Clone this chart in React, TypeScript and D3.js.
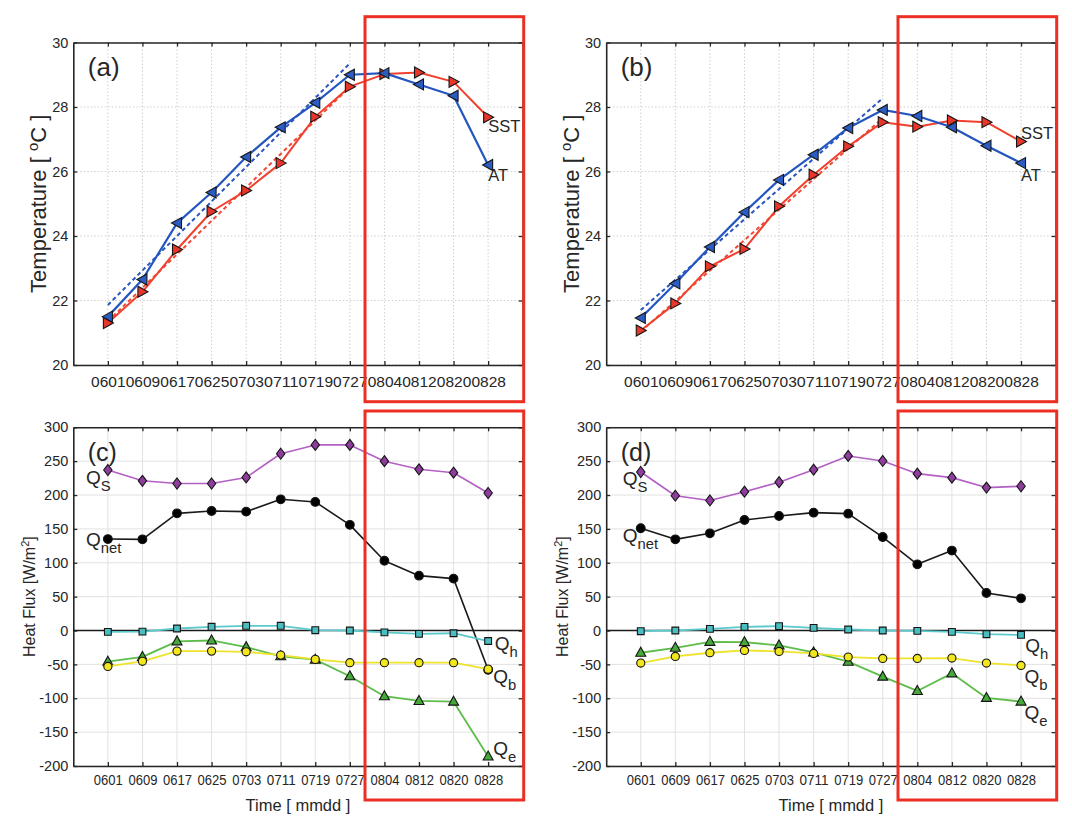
import React, { useEffect, useRef } from 'react';
import * as d3 from 'd3';

// ---- data ----
const dates = ['0601', '0609', '0617', '0625', '0703', '0711', '0719', '0727', '0804', '0812', '0820', '0828'];

const tempTicks = [20, 22, 24, 26, 28, 30];
const fluxTicks = [-200, -150, -100, -50, 0, 50, 100, 150, 200, 250, 300];

// (a)
const atA = [21.5, 22.65, 24.4, 25.35, 26.45, 27.37, 28.13, 29.0, 29.05, 28.7, 28.35, 26.2];
const sstA = [21.3, 22.27, 23.58, 24.76, 25.41, 26.26, 27.7, 28.63, 29.02, 29.07, 28.78, 27.68];
// (b)
const atB = [21.46, 22.53, 23.66, 24.74, 25.74, 26.52, 27.35, 27.91, 27.72, 27.37, 26.8, 26.26];
const sstB = [21.07, 21.91, 23.06, 23.6, 24.92, 25.9, 26.78, 27.53, 27.39, 27.58, 27.53, 26.93];

// (c)
const qsC = [237, 221, 217, 217, 226, 261, 274, 274, 250, 238, 233, 203];
const qnetC = [135, 134.6, 173, 176.5, 175.5, 193.7, 189.8, 156, 103, 81, 76.6, -58];
const qhC = [-2, -1.7, 3, 5.5, 7, 7, 0.5, 0, -2.8, -5, -4, -15.5];
const qbC = [-53, -45.5, -30.4, -30.4, -31.4, -36.3, -42.6, -47.5, -47.5, -47.5, -47.5, -57];
const qeC = [-46, -39, -16, -14.7, -24.5, -38, -43, -67.6, -97, -104, -105, -186];
// (d)
const qsD = [234, 199, 192, 205, 219, 237.5, 257.7, 250.3, 231.6, 225.7, 211, 213];
const qnetD = [151, 134.6, 143.5, 163.2, 169.1, 174, 172.5, 138, 97.7, 118, 55.4, 47.5];
const qhD = [-1, 0, 2.5, 5.4, 6.4, 3.9, 1.5, 0, -0.5, -2, -5.4, -6.4];
const qbD = [-48, -38.2, -32.8, -29.4, -30.9, -33.8, -39.2, -41.2, -41.2, -40.7, -48, -51.5];
const qeD = [-32.8, -25.5, -16.7, -17.2, -22, -32.4, -46, -68.1, -89.2, -63.2, -99.5, -104.9];

const FONT = '"Liberation Sans", Arial, Helvetica, sans-serif';
const TXT = '#262626';
const FIT_N = 8; // linear trend over 0601-0727

const markerPath = (shape) => {
  switch (shape) {
    case 'tri-left': return 'M-5.5,0L4.5,-5.5L4.5,5.5Z';
    case 'tri-right': return 'M5.5,0L-4.5,-5.5L-4.5,5.5Z';
    case 'tri-up': return 'M0,-5.5L5,3.5L-5,3.5Z';
    case 'diamond': return 'M0,-5.5L4.2,0L0,5.5L-4.2,0Z';
    case 'square': return 'M-3.4,-3.4H3.4V3.4H-3.4Z';
    case 'big-circle': return d3.symbol(d3.symbolCircle, 60)();
    default: return d3.symbol(d3.symbolCircle, 52)();
  }
};

// least squares fit over the first n points
const trendEnds = (vals, n) => {
  const xs = d3.range(n);
  const ys = vals.slice(0, n);
  const mx = d3.mean(xs), my = d3.mean(ys);
  const sxy = d3.sum(xs, (x, i) => (x - mx) * (ys[i] - my));
  const sxx = d3.sum(xs, x => (x - mx) * (x - mx));
  const b = sxy / sxx;
  const a = my - b * mx;
  return [a, a + b * (n - 1)];
};

const drawFrame = (g, x, y, p) => {
  const right = p.left + p.width;
  const bottom = p.top + p.height;
  const idx = d3.range(dates.length);

  // grid
  g.append('g').selectAll('line').data(idx).enter().append('line')
    .attr('x1', i => x(i)).attr('x2', i => x(i))
    .attr('y1', p.top).attr('y2', bottom)
    .attr('stroke', p.gridColor).attr('stroke-width', 1)
    .attr('stroke-dasharray', p.gridDash);
  g.append('g').selectAll('line').data(p.yTicks).enter().append('line')
    .attr('x1', p.left).attr('x2', right)
    .attr('y1', d => y(d)).attr('y2', d => y(d))
    .attr('stroke', p.gridColor).attr('stroke-width', 1)
    .attr('stroke-dasharray', p.gridDash);

  const xb = g.append('g').attr('transform', `translate(0,${bottom})`)
    .call(d3.axisBottom(x).tickValues(idx).tickFormat(i => dates[i])
      .tickSizeInner(-4).tickSizeOuter(0).tickPadding(p.xPad));
  g.append('g').attr('transform', `translate(0,${p.top})`)
    .call(d3.axisTop(x).tickValues(idx).tickFormat(() => '')
      .tickSizeInner(-4).tickSizeOuter(0));
  const yl = g.append('g').attr('transform', `translate(${p.left},0)`)
    .call(d3.axisLeft(y).tickValues(p.yTicks).tickFormat(d => String(d))
      .tickSizeInner(-4).tickSizeOuter(0).tickPadding(5));
  g.append('g').attr('transform', `translate(${right},0)`)
    .call(d3.axisRight(y).tickValues(p.yTicks).tickFormat(() => '')
      .tickSizeInner(-4).tickSizeOuter(0));

  g.selectAll('.domain').attr('stroke', TXT).attr('stroke-width', 1.6);
  g.selectAll('.tick line').attr('stroke', TXT).attr('stroke-width', 1.3);

  xb.selectAll('text')
    .attr('font-family', FONT).attr('font-size', p.xFont).attr('fill', TXT)
    .attr('textLength', p.xLen).attr('lengthAdjust', 'spacingAndGlyphs');
  yl.selectAll('text')
    .attr('font-family', FONT).attr('font-size', p.yFont).attr('fill', TXT);

  // panel tag
  g.append('text')
    .attr('x', p.left + 14.5).attr('y', p.top + 33.5)
    .attr('font-family', FONT).attr('font-size', p.tagFont).attr('fill', TXT)
    .text(p.tag);
};

const drawSeries = (g, x, y, values, s) => {
  const line = d3.line().x((d, i) => x(i)).y(d => y(d));
  g.append('path').datum(values)
    .attr('d', line).attr('fill', 'none')
    .attr('stroke', s.line).attr('stroke-width', s.width)
    .attr('stroke-linejoin', 'round');
  g.append('g').selectAll('path').data(values).enter().append('path')
    .attr('transform', (d, i) => `translate(${x(i)},${y(d)})`)
    .attr('d', markerPath(s.shape))
    .attr('fill', s.fill).attr('stroke', '#151515').attr('stroke-width', 1.1);
};

const qLabel = (g, x, y, at, sub, fs) => {
  const t = g.append('text')
    .attr('x', x(at[0])).attr('y', y(at[1]))
    .attr('font-family', FONT).attr('fill', TXT);
  t.append('tspan').attr('font-size', fs).text('Q');
  t.append('tspan').attr('font-size', fs * 0.78).attr('dy', 7).text(sub);
};

const redBox = (svg, x0, y0, x1, y1) => {
  svg.append('rect')
    .attr('x', x0).attr('y', y0).attr('width', x1 - x0).attr('height', y1 - y0)
    .attr('fill', 'none').attr('stroke', '#ec2f23').attr('stroke-width', 3);
};

const tempPanels = [
  { tag: '(a)', left: 73.3, at: atA, sst: sstA, sstY: 27.4, atY: 25.9, titleX: 46 },
  { tag: '(b)', left: 606.2, at: atB, sst: sstB, sstY: 27.2, atY: 25.9, titleX: 579 },
];
const fluxPanels = [
  {
    tag: '(c)', left: 73.3, qs: qsC, qnet: qnetC, qh: qhC, qb: qbC, qe: qeC, titleX: 35, timeX: 298,
    labels: { S: [-0.63, 217], net: [-0.63, 125], h: [11.19, -29], b: [11.15, -78], e: [11.15, -184] },
  },
  {
    tag: '(d)', left: 606.2, qs: qsD, qnet: qnetD, qh: qhD, qb: qbD, qe: qeD, titleX: 568, timeX: 831,
    labels: { S: [-0.52, 215], net: [-0.52, 130], h: [11.12, -31], b: [11.1, -77], e: [11.1, -130] },
  },
];

const App = () => {
  const svgRef = useRef(null);

  useEffect(() => {
    const svg = d3.select(svgRef.current);
    svg.selectAll('*').remove();

    const W = 449.4;

    // ---- temperature panels ----
    tempPanels.forEach(tp => {
      const p = {
        ...tp, top: 42.5, width: W, height: 322.5, yTicks: tempTicks,
        gridColor: '#cfcfcf', gridDash: '1.5,2', xPad: 11, xFont: 15.5, xLen: 34.5, yFont: 14.5, tagFont: 26,
      };
      const x = d3.scaleLinear().domain([-1, 12]).range([p.left, p.left + W]);
      const y = d3.scaleLinear().domain([20, 30]).range([p.top + p.height, p.top]);
      const g = svg.append('g');
      drawFrame(g, x, y, p);

      // trend lines
      [[tp.sst, '#f04a36'], [tp.at, '#2a55c0']].forEach(([vals, col]) => {
        const [y0, y1] = trendEnds(vals, FIT_N);
        g.append('line')
          .attr('x1', x(0)).attr('y1', y(y0)).attr('x2', x(FIT_N - 1)).attr('y2', y(y1))
          .attr('stroke', col).attr('stroke-width', 2).attr('stroke-dasharray', '4,3');
      });

      drawSeries(g, x, y, tp.sst, { line: '#f0402e', fill: '#e8372a', shape: 'tri-right', width: 2 });
      drawSeries(g, x, y, tp.at, { line: '#2456c0', fill: '#2a5cc4', shape: 'tri-left', width: 2.2 });

      g.append('text').attr('x', x(11)).attr('y', y(tp.sstY) + 6)
        .attr('font-family', FONT).attr('font-size', 16.5).attr('fill', TXT).text('SST');
      g.append('text').attr('x', x(11)).attr('y', y(tp.atY) + 6)
        .attr('font-family', FONT).attr('font-size', 16.5).attr('fill', TXT).text('AT');

      const t = g.append('text')
        .attr('transform', `translate(${tp.titleX},${p.top + p.height / 2}) rotate(-90)`)
        .attr('text-anchor', 'middle')
        .attr('font-family', FONT).attr('font-size', 22).attr('fill', TXT);
      t.append('tspan').text('Temperature [ ');
      t.append('tspan').attr('font-size', 15).attr('dy', -8).text('o');
      t.append('tspan').attr('dy', 8).text('C ]');
    });

    // ---- heat flux panels ----
    fluxPanels.forEach(fp => {
      const p = {
        ...fp, top: 427.3, width: W, height: 338.7, yTicks: fluxTicks,
        gridColor: '#e2e2e2', gridDash: null, xPad: 8, xFont: 15, xLen: 29, yFont: 14.5, tagFont: 25,
      };
      const x = d3.scaleLinear().domain([-1, 12]).range([p.left, p.left + W]);
      const y = d3.scaleLinear().domain([-200, 300]).range([p.top + p.height, p.top]);
      const g = svg.append('g');
      drawFrame(g, x, y, p);

      // zero line
      g.append('line')
        .attr('x1', p.left).attr('x2', p.left + W).attr('y1', y(0)).attr('y2', y(0))
        .attr('stroke', '#1a1a1a').attr('stroke-width', 1.6);

      drawSeries(g, x, y, fp.qs, { line: '#b360c4', fill: '#8e3d9c', shape: 'diamond', width: 1.6 });
      drawSeries(g, x, y, fp.qnet, { line: '#1a1a1a', fill: '#000000', shape: 'big-circle', width: 1.6 });
      drawSeries(g, x, y, fp.qh, { line: '#5cc9cc', fill: '#49bdc0', shape: 'square', width: 1.8 });
      drawSeries(g, x, y, fp.qe, { line: '#5ebd4a', fill: '#46a83a', shape: 'tri-up', width: 1.8 });
      drawSeries(g, x, y, fp.qb, { line: '#efe22a', fill: '#f2e61c', shape: 'circle', width: 1.8 });

      const L = fp.labels;
      qLabel(g, x, y, L.S, 'S', 19);
      qLabel(g, x, y, L.net, 'net', 19);
      qLabel(g, x, y, L.h, 'h', 19);
      qLabel(g, x, y, L.b, 'b', 19);
      qLabel(g, x, y, L.e, 'e', 19);

      const t = g.append('text')
        .attr('transform', `translate(${fp.titleX},${p.top + p.height / 2}) rotate(-90)`)
        .attr('text-anchor', 'middle')
        .attr('font-family', FONT).attr('font-size', 16).attr('fill', TXT);
      t.append('tspan').text('Heat Flux [W/m');
      t.append('tspan').attr('font-size', 11).attr('dy', -6).text('2');
      t.append('tspan').attr('dy', 6).text(']');

      g.append('text')
        .attr('x', fp.timeX).attr('y', 811)
        .attr('text-anchor', 'middle')
        .attr('font-family', FONT).attr('font-size', 16.5).attr('fill', TXT)
        .text('Time [ mmdd ]');
    });

    // highlighted August windows
    redBox(svg, 365, 16.7, 523.7, 401.7);
    redBox(svg, 365, 411, 523.7, 800);
    redBox(svg, 898, 16.7, 1056.7, 401.7);
    redBox(svg, 898, 411, 1056.7, 800);
  }, []);

  return (
    <div style={{ position: 'absolute', left: 0, top: 0, background: '#fff' }}>
      <svg ref={svgRef} width={1072} height={827} style={{ display: 'block' }} />
    </div>
  );
};

export default App;
